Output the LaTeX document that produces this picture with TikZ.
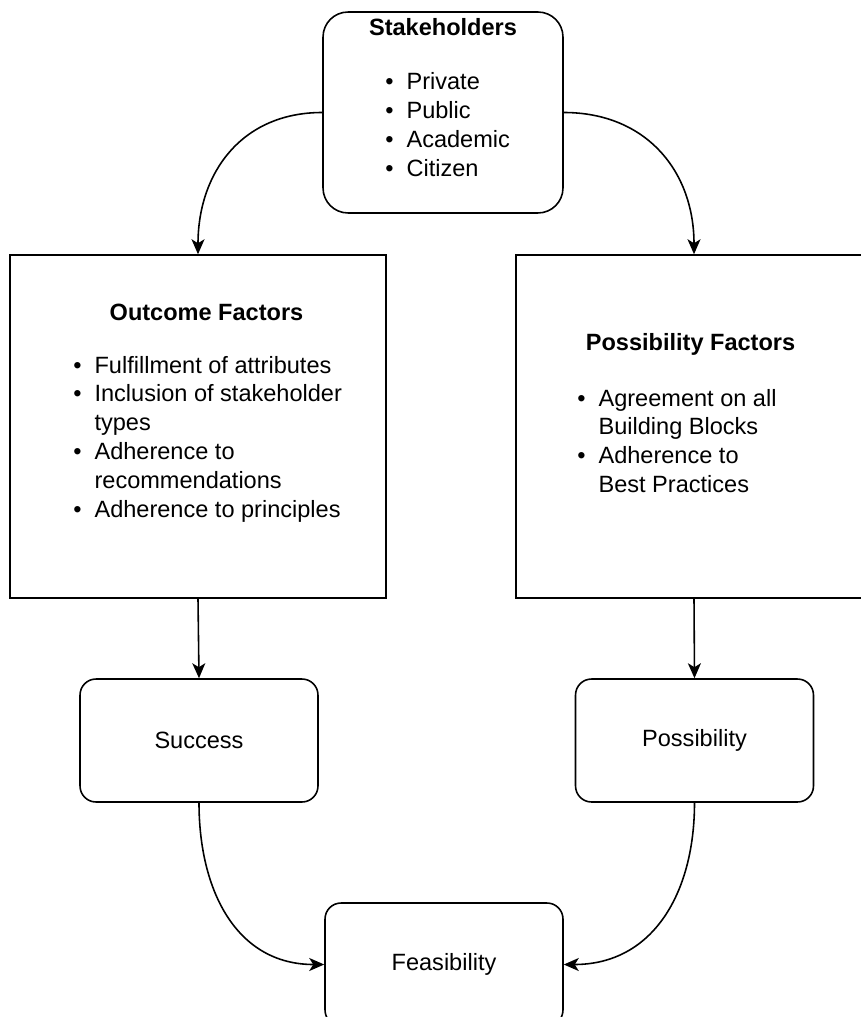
\documentclass[tikz,border=0pt]{standalone}
\usepackage{fontspec}
\setmainfont{Liberation Sans}
\usetikzlibrary{arrows.meta}
\newcommand{\diafont}{\fontsize{13.4}{16.4}\selectfont}
\tikzset{
  box/.style={draw, line width=0.9pt, inner sep=0pt},
  roundbox/.style={box, rounded corners=0.32cm, minimum width=4.76cm, minimum height=2.46cm},
  link/.style={line width=0.9pt, -{Stealth[length=0.3cm,width=0.26cm,inset=0.08cm]}},
  title/.style={anchor=base, inner sep=0pt, font=\diafont\bfseries},
  itemlist/.style={anchor=base west, inner sep=0pt}
}
\newcommand{\bul}{\textbullet}
\begin{document}
\begin{tikzpicture}[x=0.02cm, y=-0.02cm, font=\diafont]
  \useasboundingbox (0,0) rectangle (861,1017);
  % boxes
  \node [box, rounded corners=0.5cm, minimum width=4.8cm, minimum height=4.02cm] (stake) at (443,112.5) {};
  \node [box, minimum width=7.52cm, minimum height=6.86cm] (outfac) at (198,426.5) {};
  \node [box, minimum width=7.12cm, minimum height=6.86cm] (posfac) at (694,426.5) {};
  \node [roundbox] (success) at (199,740.5) {Success};
  \node [roundbox] (possib) at (694.5,740.5) {Possibility};
  \node [roundbox] (feas) at (444,964.5) {Feasibility};
  % texts
  \node [title] (stakeT) at (443,36) {Stakeholders};
  \node [itemlist] (stakeL) at (385,90) {\begin{tabular}[t]{@{}l@{\hspace{0.26cm}}l@{}}
      \bul & Private\\ \bul & Public\\ \bul & Academic\\ \bul & Citizen
    \end{tabular}};
  \node [title] (outfacT) at (206.5,320) {Outcome Factors};
  \node [itemlist] (outfacL) at (73,373) {\begin{tabular}[t]{@{}l@{\hspace{0.26cm}}l@{}}
      \bul & Fulfillment of attributes\\ \bul & Inclusion of stakeholder\\ & types\\
      \bul & Adherence to\\ & recommendations\\ \bul & Adherence to principles
    \end{tabular}};
  \node [title] (posfacT) at (690.5,350) {Possibility Factors};
  \node [itemlist] (posfacL) at (577,406) {\begin{tabular}[t]{@{}l@{\hspace{0.26cm}}l@{}}
      \bul & Agreement on all\\ & Building Blocks\\ \bul & Adherence to\\ & Best Practices
    \end{tabular}};
  % connectors
  \draw [link] (stake.west) to[out=180,in=90,looseness=1.1] (outfac.north);
  \draw [link] (stake.east) to[out=0,in=90,looseness=1.1] (posfac.north);
  \draw [link] (outfac.south) -- (success.north);
  \draw [link] (posfac.south) -- (possib.north);
  \draw [link] (success.south) to[out=-90,in=180,looseness=1.1] (feas.west);
  \draw [link] (possib.south) to[out=-90,in=0,looseness=1.1] (feas.east);
\end{tikzpicture}
\end{document}
